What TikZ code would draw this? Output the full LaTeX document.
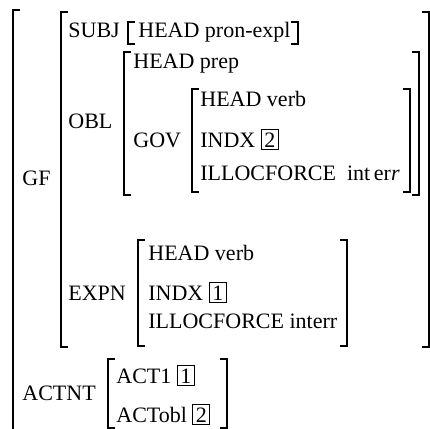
\documentclass[tikz,border=0pt]{standalone}
\usepackage{fontspec}
\setmainfont{Liberation Serif}
\newcommand{\tagbox}[1]{{\setlength{\fboxsep}{1.2pt}\setlength{\fboxrule}{0.5pt}\fbox{#1}}}
\newcommand{\avmbrk}[4]{%
  \draw (#1+7,#3) -- (#1,#3) -- (#1,#4) -- (#1+7,#4);
  \draw (#2-7,#3) -- (#2,#3) -- (#2,#4) -- (#2-7,#4);}
\tikzset{
  attr/.style={anchor=base west, inner sep=0pt, font=\fontsize{11}{13}\selectfont},
  brk/.style={line width=0.55pt}
}
\begin{document}
\begin{tikzpicture}[x=0.5pt,y=-0.5pt]
\useasboundingbox (0,0) rectangle (430,429);
% brackets
\begin{scope}[brk]
\draw (20,10) -- (13,10) -- (13,445);
\avmbrk{61}{429}{12}{347}
\avmbrk{128}{298}{22}{44}
\avmbrk{124}{419}{52}{195}
\avmbrk{192}{410}{89}{192}
\avmbrk{138}{347}{240}{346}
\avmbrk{108}{227}{359}{428}
\end{scope}
% labels
\node[attr] (subj) at (68,37) {SUBJ};
\node[attr] (subjhead) at (138,37) {HEAD pron-expl};
\node[attr] (oblhead) at (133,68) {HEAD prep};
\node[attr] (obl) at (68,128) {OBL};
\node[attr] (govhead) at (200,106) {HEAD verb};
\node[attr] (gov) at (133,147) {GOV};
\node[attr] (govindx) at (200,147) {INDX \tagbox{2}};
\node[attr] (govforce) at (200,180) {ILLOCFORCE\ \ int\,er\textit{r}};
\node[attr] (gf) at (22,185) {GF};
\node[attr] (expnhead) at (148,260) {HEAD verb};
\node[attr] (expn) at (68,300) {EXPN};
\node[attr] (expnindx) at (148,300) {INDX \tagbox{1}};
\node[attr] (expnforce) at (148,328) {ILLOCFORCE interr};
\node[attr] (actone) at (116,383) {ACT1 \tagbox{1}};
\node[attr] (actnt) at (22,400) {ACTNT};
\node[attr] (actobl) at (116,422) {ACTobl \tagbox{2}};
\end{tikzpicture}
\end{document}
